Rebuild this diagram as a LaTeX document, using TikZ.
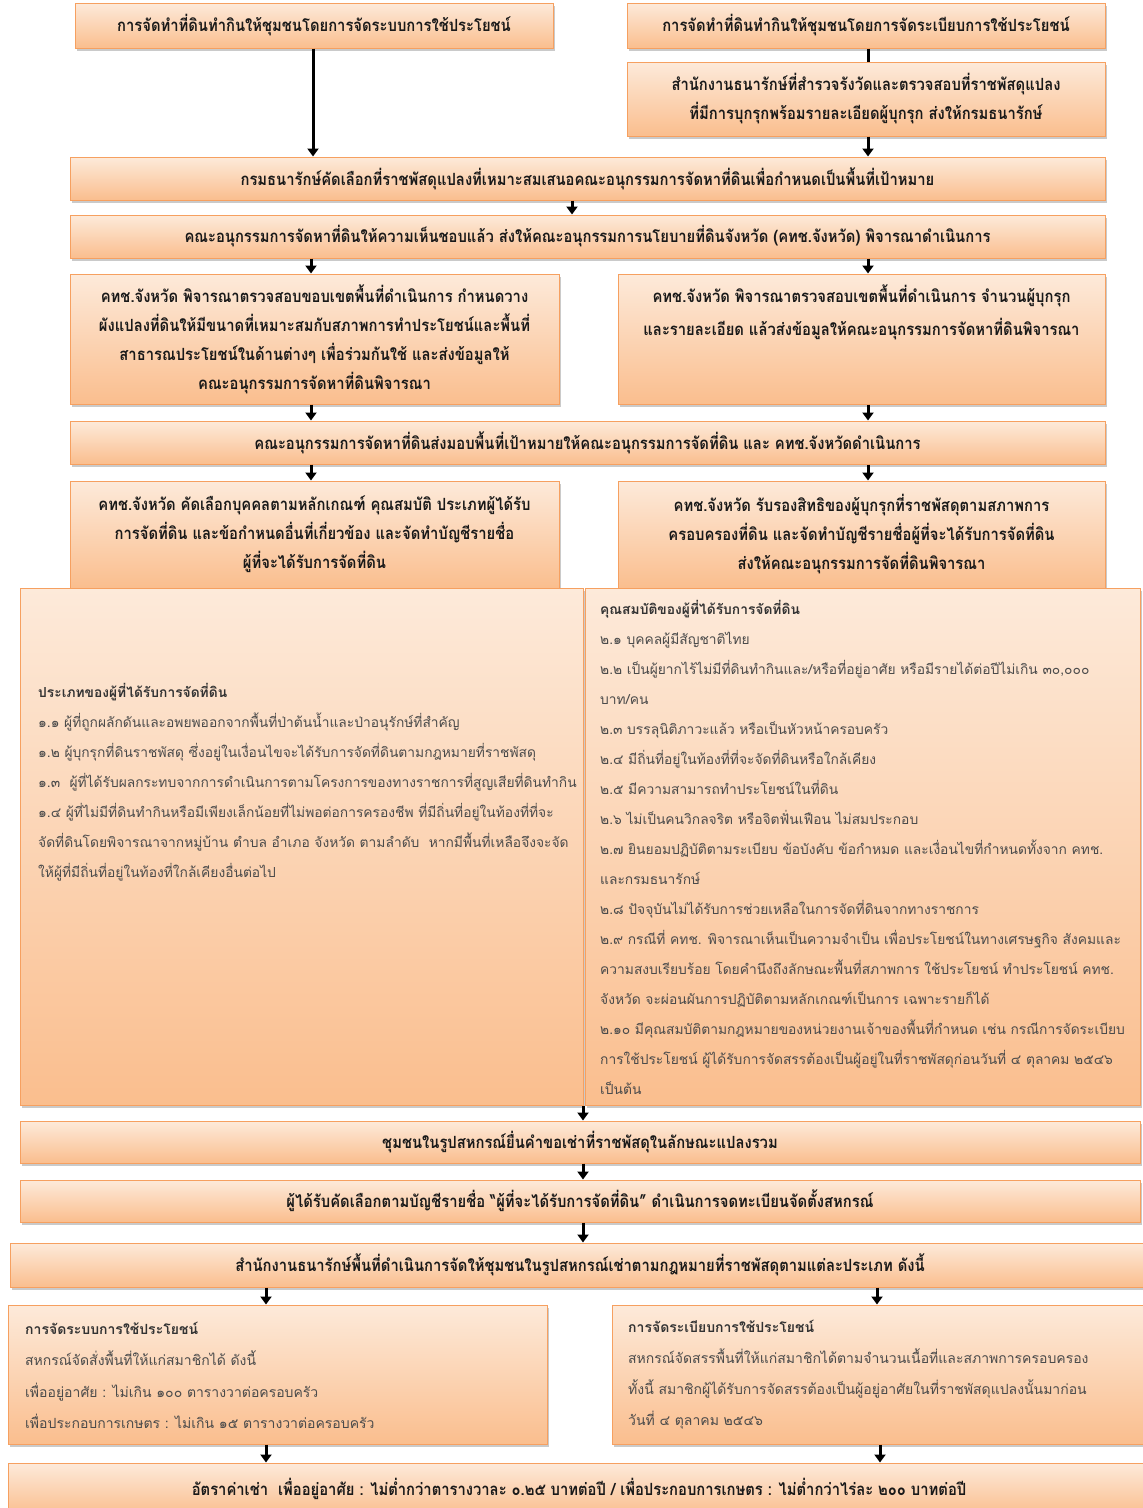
\documentclass[tikz,border=0pt]{standalone}
\usepackage{fontspec}
\newfontfamily\thai[Script=Thai]{Loma}
\newfontfamily\thaibox[Script=Thai, FakeStretch=0.88]{Loma}
\usetikzlibrary{positioning,arrows.meta,shadows}
\definecolor{boxtop}{RGB}{253,234,218}
\definecolor{boxbot}{RGB}{250,190,142}
\definecolor{boxline}{RGB}{246,160,96}
\definecolor{bodytext}{RGB}{75,75,75}
\newcommand\bxfont{\thaibox\bfseries\fontsize{16.8}{29}\selectfont}
\newcommand\txfont{\thai\fontsize{13.8}{30}\selectfont}

\begin{document}
\begin{tikzpicture}[x=1pt, y=-1pt,
  box/.style={draw=boxline, line width=1pt, top color=boxtop, bottom color=boxbot,
    drop shadow={shadow xshift=1.5pt, shadow yshift=-3pt, fill=black!60, opacity=0.35},
    inner sep=0pt, align=center, font=\bxfont, text=black!90},
  txt/.style={inner sep=0pt, align=left, text=bodytext, font=\txfont},
  arr/.style={-{Triangle[length=8pt,width=11pt]}, line width=3pt}]

\useasboundingbox (0,0) rectangle (1143,1508);

% top row
\node[box, minimum width=478, minimum height=45] (b1) at (314,25.5)
  {การจัดทำที่ดินทำกินให้ชุมชนโดยการจัดระบบการใช้ประโยชน์};
\node[box, minimum width=478, minimum height=45] (b2) at (866,25.5)
  {การจัดทำที่ดินทำกินให้ชุมชนโดยการจัดระเบียบการใช้ประโยชน์};
\node[box, minimum width=478, minimum height=74] (b3) at (866,99)
  {สำนักงานธนารักษ์ที่สำรวจรังวัดและตรวจสอบที่ราชพัสดุแปลง\\
   ที่มีการบุกรุกพร้อมรายละเอียดผู้บุกรุก ส่งให้กรมธนารักษ์};

% wide steps
\node[box, minimum width=1035, minimum height=43] (b4) at (587.5,178.5)
  {กรมธนารักษ์คัดเลือกที่ราชพัสดุแปลงที่เหมาะสมเสนอคณะอนุกรรมการจัดหาที่ดินเพื่อกำหนดเป็นพื้นที่เป้าหมาย};
\node[box, minimum width=1035, minimum height=43] (b5) at (587.5,236.5)
  {คณะอนุกรรมการจัดหาที่ดินให้ความเห็นชอบแล้ว ส่งให้คณะอนุกรรมการนโยบายที่ดินจังหวัด (คทช.จังหวัด) พิจารณาดำเนินการ};

\node[box, minimum width=489, minimum height=130] (b6l) at (314.5,339)
  {คทช.จังหวัด พิจารณาตรวจสอบขอบเขตพื้นที่ดำเนินการ กำหนดวาง\\
   ผังแปลงที่ดินให้มีขนาดที่เหมาะสมกับสภาพการทำประโยชน์และพื้นที่\\
   สาธารณประโยชน์ในด้านต่างๆ เพื่อร่วมกันใช้ และส่งข้อมูลให้\\
   คณะอนุกรรมการจัดหาที่ดินพิจารณา};
\node[box, minimum width=487, minimum height=130] (b6r) at (861.5,339) {};
\node[inner sep=0pt, align=center, font=\bxfont, text=black!90] (t6r) at (861.5,312.5)
  {คทช.จังหวัด พิจารณาตรวจสอบเขตพื้นที่ดำเนินการ จำนวนผู้บุกรุก\\[4pt]
   และรายละเอียด แล้วส่งข้อมูลให้คณะอนุกรรมการจัดหาที่ดินพิจารณา};

\node[box, minimum width=1035, minimum height=43] (b7) at (587.5,442.5)
  {คณะอนุกรรมการจัดหาที่ดินส่งมอบพื้นที่เป้าหมายให้คณะอนุกรรมการจัดที่ดิน และ คทช.จังหวัดดำเนินการ};

\node[box, minimum width=489, minimum height=107] (b8l) at (314.5,534.5)
  {คทช.จังหวัด คัดเลือกบุคคลตามหลักเกณฑ์ คุณสมบัติ ประเภทผู้ได้รับ\\
   การจัดที่ดิน และข้อกำหนดอื่นที่เกี่ยวข้อง และจัดทำบัญชีรายชื่อ\\
   ผู้ที่จะได้รับการจัดที่ดิน};
\node[box, minimum width=487, minimum height=107] (b8r) at (861.5,534.5)
  {คทช.จังหวัด รับรองสิทธิของผู้บุกรุกที่ราชพัสดุตามสภาพการ\\
   ครอบครองที่ดิน และจัดทำบัญชีรายชื่อผู้ที่จะได้รับการจัดที่ดิน\\
   ส่งให้คณะอนุกรรมการจัดที่ดินพิจารณา};

% two panels
\node[box, minimum width=563, minimum height=517] (p1) at (301.5,846.5) {};
\node[box, minimum width=555, minimum height=517] (p2) at (862.5,846.5) {};
\node[txt, anchor=west] (t1) at (38,782.5)
  {\textbf{\color{black!80}ประเภทของผู้ที่ได้รับการจัดที่ดิน}\\
   ๑.๑ ผู้ที่ถูกผลักดันและอพยพออกจากพื้นที่ป่าต้นน้ำและป่าอนุรักษ์ที่สำคัญ\\
   ๑.๒ ผู้บุกรุกที่ดินราชพัสดุ ซึ่งอยู่ในเงื่อนไขจะได้รับการจัดที่ดินตามกฎหมายที่ราชพัสดุ\\
   ๑.๓ \ ผู้ที่ได้รับผลกระทบจากการดำเนินการตามโครงการของทางราชการที่สูญเสียที่ดินทำกิน\\
   ๑.๔ ผู้ที่ไม่มีที่ดินทำกินหรือมีเพียงเล็กน้อยที่ไม่พอต่อการครองชีพ ที่มีถิ่นที่อยู่ในท้องที่ที่จะ\\
   จัดที่ดินโดยพิจารณาจากหมู่บ้าน ตำบล อำเภอ จังหวัด ตามลำดับ \ หากมีพื้นที่เหลือจึงจะจัด\\
   ให้ผู้ที่มีถิ่นที่อยู่ในท้องที่ใกล้เคียงอื่นต่อไป};
\node[txt, anchor=west] (t2) at (600,847.5)
  {\textbf{\color{black!80}คุณสมบัติของผู้ที่ได้รับการจัดที่ดิน}\\
   ๒.๑ บุคคลผู้มีสัญชาติไทย\\
   ๒.๒ เป็นผู้ยากไร้ไม่มีที่ดินทำกินและ/หรือที่อยู่อาศัย หรือมีรายได้ต่อปีไม่เกิน ๓๐,๐๐๐\\
   บาท/คน\\
   ๒.๓ บรรลุนิติภาวะแล้ว หรือเป็นหัวหน้าครอบครัว\\
   ๒.๔ มีถิ่นที่อยู่ในท้องที่ที่จะจัดที่ดินหรือใกล้เคียง\\
   ๒.๕ มีความสามารถทำประโยชน์ในที่ดิน\\
   ๒.๖ ไม่เป็นคนวิกลจริต หรือจิตฟั่นเฟือน ไม่สมประกอบ\\
   ๒.๗ ยินยอมปฏิบัติตามระเบียบ ข้อบังคับ ข้อกำหมด และเงื่อนไขที่กำหนดทั้งจาก คทช.\\
   และกรมธนารักษ์\\
   ๒.๘ ปัจจุบันไม่ได้รับการช่วยเหลือในการจัดที่ดินจากทางราชการ\\
   ๒.๙ กรณีที่ คทช. พิจารณาเห็นเป็นความจำเป็น เพื่อประโยชน์ในทางเศรษฐกิจ สังคมและ\\
   ความสงบเรียบร้อย โดยคำนึงถึงลักษณะพื้นที่สภาพการ ใช้ประโยชน์ ทำประโยชน์ คทช.\\
   จังหวัด จะผ่อนผันการปฏิบัติตามหลักเกณฑ์เป็นการ เฉพาะรายก็ได้\\
   ๒.๑๐ มีคุณสมบัติตามกฎหมายของหน่วยงานเจ้าของพื้นที่กำหนด เช่น กรณีการจัดระเบียบ\\
   การใช้ประโยชน์ ผู้ได้รับการจัดสรรต้องเป็นผู้อยู่ในที่ราชพัสดุก่อนวันที่ ๔ ตุลาคม ๒๕๔๖\\
   เป็นต้น};

% lower steps
\node[box, minimum width=1120, minimum height=42] (b10) at (580,1142)
  {ชุมชนในรูปสหกรณ์ยื่นคำขอเช่าที่ราชพัสดุในลักษณะแปลงรวม};
\node[box, minimum width=1120, minimum height=42] (b11) at (580,1201)
  {ผู้ได้รับคัดเลือกตามบัญชีรายชื่อ “ผู้ที่จะได้รับการจัดที่ดิน” ดำเนินการจดทะเบียนจัดตั้งสหกรณ์};
\node[box, minimum width=1140, minimum height=44] (b12) at (580,1265)
  {สำนักงานธนารักษ์พื้นที่ดำเนินการจัดให้ชุมชนในรูปสหกรณ์เช่าตามกฎหมายที่ราชพัสดุตามแต่ละประเภท ดังนี้};

\node[box, minimum width=539, minimum height=139] (b13l) at (277.5,1374.5) {};
\node[box, minimum width=538, minimum height=139] (b13r) at (881,1374.5) {};
\node[txt, anchor=west, font=\thai\fontsize{14}{31.5}\selectfont] (t13l) at (25,1375.5)
  {\textbf{\color{black!80}การจัดระบบการใช้ประโยชน์}\\
   สหกรณ์จัดสั่งพื้นที่ให้แก่สมาชิกได้ ดังนี้\\
   เพื่ออยู่อาศัย : ไม่เกิน ๑๐๐ ตารางวาต่อครอบครัว\\
   เพื่อประกอบการเกษตร : ไม่เกิน ๑๕ ตารางวาต่อครอบครัว};
\node[txt, anchor=west, font=\thai\fontsize{14}{31}\selectfont] (t13r) at (628,1374.5)
  {\textbf{\color{black!80}การจัดระเบียบการใช้ประโยชน์}\\
   สหกรณ์จัดสรรพื้นที่ให้แก่สมาชิกได้ตามจำนวนเนื้อที่และสภาพการครอบครอง\\
   ทั้งนี้ สมาชิกผู้ได้รับการจัดสรรต้องเป็นผู้อยู่อาศัยในที่ราชพัสดุแปลงนั้นมาก่อน\\
   วันที่ ๔ ตุลาคม ๒๕๔๖};

\node[box, minimum width=1142, minimum height=52] (b14) at (579,1489)
  {\raisebox{1pt}{อัตราค่าเช่า \ เพื่ออยู่อาศัย : ไม่ต่ำกว่าตารางวาละ ๐.๒๕ บาทต่อปี / เพื่อประกอบการเกษตร : ไม่ต่ำกว่าไร่ละ ๒๐๐ บาทต่อปี}};

% connectors
\coordinate (c2) at (868,0);
\draw[line width=3pt] (b2.south -| c2) -- (b3.north -| c2);
\foreach \a/\b/\x in {b1/b4/313, b3/b4/868, b4/b5/572, b5/b6l/311, b5/b6r/868,
    b6l/b7/311, b6r/b7/868, b7/b8l/311, b7/b8r/868, p1/b10/583, b10/b11/583,
    b11/b12/583, b12/b13l/266, b12/b13r/877, b13l/b14/266, b13r/b14/880} {
  \coordinate (cx) at (\x,0);
  \draw[arr] (\a.south -| cx) -- (\b.north -| cx);
}
\end{tikzpicture}
\end{document}
